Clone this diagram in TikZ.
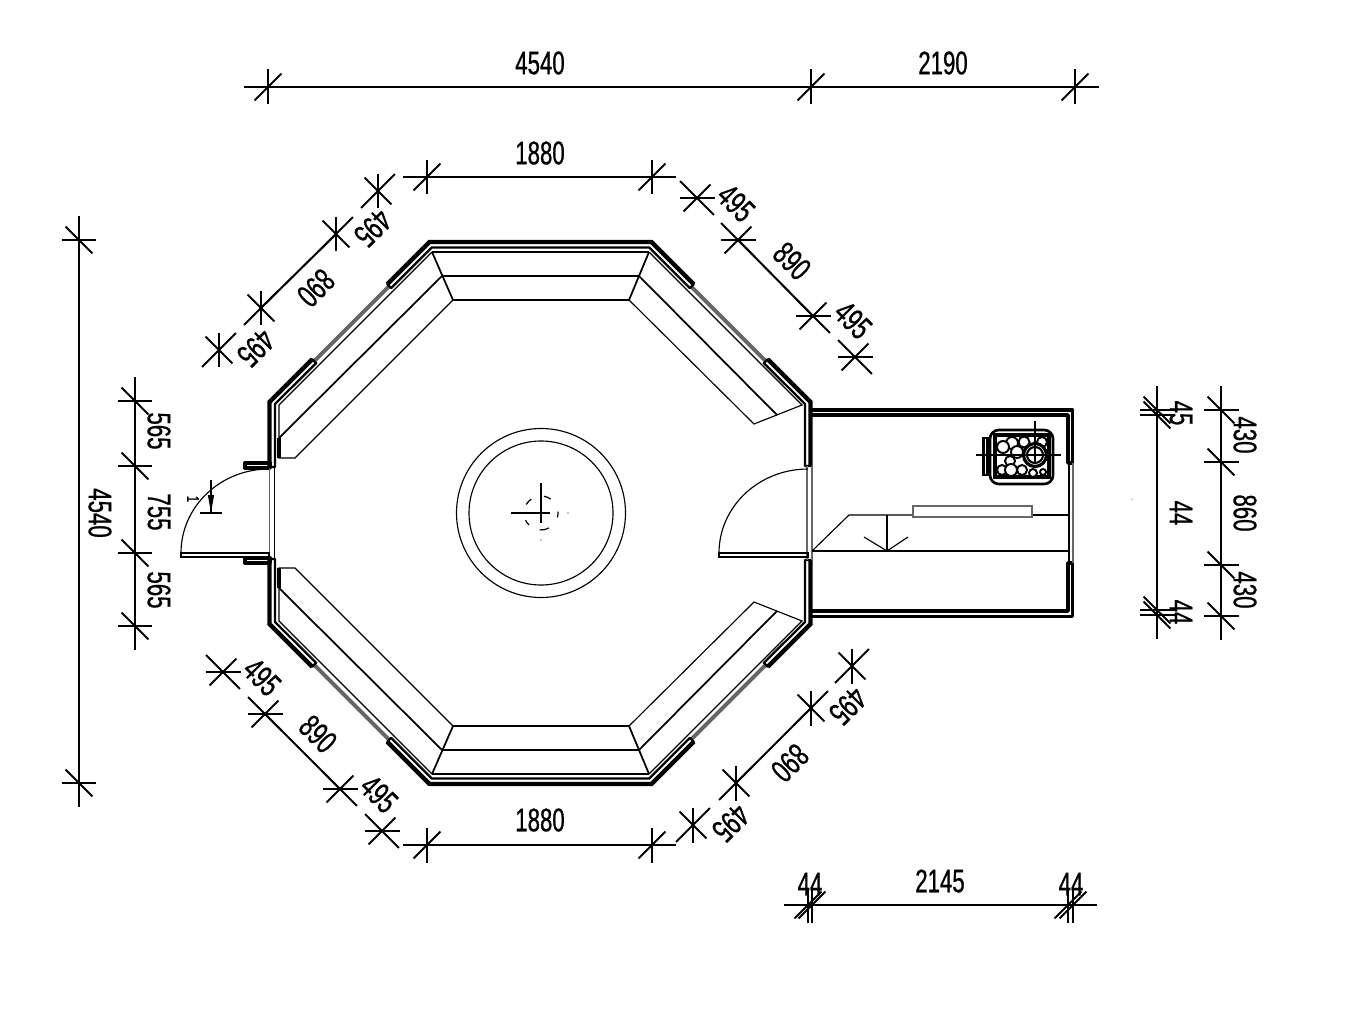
\documentclass[tikz,border=0pt]{standalone}
\usepackage{fontspec}
\newfontfamily\dimfont[FakeStretch=0.68,FakeBold=0.7]{Liberation Sans}
\usetikzlibrary{ arrows,
                 positioning, % For easy node-relative placements
               }
\tikzstyle{dimline} = [line width=1.15pt]
\tikzstyle{dimtext} = [inner sep=0pt, font=\dimfont\fontsize{18.6}{20}\selectfont]
\tikzstyle{wall} = [line width=1.3pt, line join=round]
\tikzstyle{wallout} = [line width=2.5pt, line join=miter]
\tikzstyle{glass} = [line width=1pt, black!60]
\tikzstyle{band} = [line width=2.2pt, black!60]
\tikzstyle{bench} = [line width=1pt]
\tikzstyle{thin line} = [line width=0.65pt]
\tikzstyle{stone} = [fill=white, draw=black, line width=1.1pt]

% position, angle of dim line, of extension line, of slash
\newcommand{\dimtick}[4]{
  \begin{scope}[shift={#1}]
    \draw[dimline] (#2:0.48cm) -- (#2+180:0.48cm);
    \draw[dimline] (#3:0.35cm) -- (#3+180:0.35cm);
    \draw[dimline] (#4:0.38cm) -- (#4+180:0.38cm);
  \end{scope}
}

\begin{document}
\begin{tikzpicture}[x=0.02cm, y=-0.02cm]
  \useasboundingbox (0,0) rectangle (1351,1013);

  % top dims
  \draw[dimline] (268,87) -- (1075,87);
  \dimtick{(268,87)}{0}{90}{45}
  \dimtick{(811,87)}{0}{90}{45}
  \dimtick{(1075,87)}{0}{90}{45}
  \node (top_a) [dimtext] at (540,63) {4540};
  \node (top_b) [dimtext] at (943,63) {2190};

  \draw[dimline] (427,177) -- (652,177);
  \dimtick{(427,177)}{0}{90}{45}
  \dimtick{(652,177)}{0}{90}{45}
  \node (north) [dimtext] at (540,153) {1880};

  \draw[dimline] (427,845) -- (652,845);
  \dimtick{(427,845)}{0}{90}{45}
  \dimtick{(652,845)}{0}{90}{45}
  \node (south) [dimtext] at (540,820) {1880};

  % diagonal dims
  \dimtick{(697,198)}{-45}{0}{45}
  \draw[dimline] (738,240) -- (813,316);
  \dimtick{(738,240)}{-45}{0}{45}
  \dimtick{(813,316)}{-45}{0}{45}
  \dimtick{(855,357)}{-45}{0}{45}
  \node (ne_a) [dimtext, rotate=-45] at (736,203) {495};
  \node (ne_b) [dimtext, rotate=-45] at (792,261) {890};
  \node (ne_c) [dimtext, rotate=-45] at (853,320) {495};

  \dimtick{(378,191)}{45}{90}{-45}
  \draw[dimline] (336,234) -- (261,308);
  \dimtick{(336,234)}{45}{90}{-45}
  \dimtick{(261,308)}{45}{90}{-45}
  \dimtick{(219,350)}{45}{90}{-45}
  \node (nw_a) [dimtext, rotate=225] at (373,228) {495};
  \node (nw_b) [dimtext, rotate=225] at (316,288) {890};
  \node (nw_c) [dimtext, rotate=225] at (256,348) {495};

  \dimtick{(223,672)}{-45}{0}{45}
  \draw[dimline] (265,714) -- (340,789);
  \dimtick{(265,714)}{-45}{0}{45}
  \dimtick{(340,789)}{-45}{0}{45}
  \dimtick{(382,831)}{-45}{0}{45}
  \node (sw_a) [dimtext, rotate=-45] at (262,677) {495};
  \node (sw_b) [dimtext, rotate=-45] at (318,734) {890};
  \node (sw_c) [dimtext, rotate=-45] at (379,794) {495};

  \dimtick{(852,666)}{45}{90}{-45}
  \draw[dimline] (811,708) -- (736,783);
  \dimtick{(811,708)}{45}{90}{-45}
  \dimtick{(736,783)}{45}{90}{-45}
  \dimtick{(693,825)}{45}{90}{-45}
  \node (se_a) [dimtext, rotate=225] at (848,706) {495};
  \node (se_b) [dimtext, rotate=225] at (790,763) {890};
  \node (se_c) [dimtext, rotate=225] at (731,823) {495};

  % left dims
  \draw[dimline] (79,240) -- (79,783);
  \dimtick{(79,240)}{90}{0}{135}
  \dimtick{(79,783)}{90}{0}{135}
  \node (far_left) [dimtext, rotate=-90] at (100,513) {4540};

  \draw[dimline] (135,401) -- (135,626);
  \dimtick{(135,401)}{90}{0}{135}
  \dimtick{(135,466)}{90}{0}{135}
  \dimtick{(135,553)}{90}{0}{135}
  \dimtick{(135,626)}{90}{0}{135}
  \node (left_a) [dimtext, rotate=-90] at (159,431) {565};
  \node (left_b) [dimtext, rotate=-90] at (159,512) {755};
  \node (left_c) [dimtext, rotate=-90] at (159,590) {565};

  % right dims
  \draw[dimline] (1157,410) -- (1157,615);
  \dimtick{(1157,410)}{90}{0}{135}
  \dimtick{(1157,415)}{90}{0}{135}
  \dimtick{(1157,610)}{90}{0}{135}
  \dimtick{(1157,615)}{90}{0}{135}
  \node (right_a) [dimtext, rotate=-90] at (1181,413) {45};
  \node (right_b) [dimtext, rotate=-90] at (1181,513) {44};
  \node (right_c) [dimtext, rotate=-90] at (1181,612) {44};

  \draw[dimline] (1221,410) -- (1221,616);
  \dimtick{(1221,410)}{90}{0}{135}
  \dimtick{(1221,462)}{90}{0}{135}
  \dimtick{(1221,565)}{90}{0}{135}
  \dimtick{(1221,616)}{90}{0}{135}
  \node (far_a) [dimtext, rotate=-90] at (1245,435) {430};
  \node (far_b) [dimtext, rotate=-90] at (1245,513) {860};
  \node (far_c) [dimtext, rotate=-90] at (1245,590) {430};

  % bottom dim
  \draw[dimline] (808,905) -- (1073,905);
  \dimtick{(808,905)}{0}{90}{45}
  \dimtick{(812,905)}{0}{90}{45}
  \dimtick{(1068,905)}{0}{90}{45}
  \dimtick{(1073,905)}{0}{90}{45}
  \node (low_a) [dimtext] at (810,884) {44};
  \node (low_b) [dimtext] at (940,881) {2145};
  \node (low_c) [dimtext] at (1071,884) {44};

  % window bands
  \draw[band] (389.2,286.2) -- (314.2,361.2);
  \draw[band] (690.8,286.2) -- (765.8,361.2);
  \draw[band] (389.2,739.8) -- (314.2,664.8);
  \draw[band] (690.8,739.8) -- (765.8,664.8);

  % walls
  \draw[wall] (387.25,284.25) -- (429.5,242) -- (651.5,242) -- (693.75,284.25) -- (689.85,288.15) -- (649.2,247.5) -- (431.8,247.5) -- (391.15,288.15) -- cycle;
  \draw[wallout] (387.25,284.25) -- (429.5,242) -- (651.5,242) -- (693.75,284.25);
  \draw[wall] (387.25,741.75) -- (429.5,784) -- (651.5,784) -- (693.75,741.75) -- (689.85,737.85) -- (649.2,778.5) -- (431.8,778.5) -- (391.15,737.85) -- cycle;
  \draw[wallout] (387.25,741.75) -- (429.5,784) -- (651.5,784) -- (693.75,741.75);
  \draw[wall] (312.25,359.25) -- (269.5,402) -- (269.5,467) -- (275,467) -- (275,404) -- (316.15,363.15) -- cycle;
  \draw[wallout] (312.25,359.25) -- (269.5,402) -- (269.5,467);
  \draw[wall] (312.25,666.75) -- (269.5,624) -- (269.5,559) -- (275,559) -- (275,622) -- (316.15,662.85) -- cycle;
  \draw[wallout] (312.25,666.75) -- (269.5,624) -- (269.5,559);
  \draw[wall] (767.75,359.25) -- (810.5,402) -- (810.5,466) -- (805,466) -- (805,404) -- (763.85,363.15) -- cycle;
  \draw[wallout] (767.75,359.25) -- (810.5,402) -- (810.5,466);
  \draw[wall] (767.75,666.75) -- (810.5,624) -- (810.5,560) -- (805,560) -- (805,622) -- (763.85,662.85) -- cycle;
  \draw[wallout] (767.75,666.75) -- (810.5,624) -- (810.5,560);

  % benches
  \draw[bench] (432,252) -- (649,252);
  \draw[bench] (442,276) -- (639,276);
  \draw[bench] (453,300) -- (629,300);
  \draw[bench] (432,252) -- (453,300);
  \draw[bench] (649,252) -- (629,300);
  \draw[bench] (432,774) -- (649,774);
  \draw[bench] (442,750) -- (639,750);
  \draw[bench] (453,726) -- (629,726);
  \draw[bench] (432,774) -- (453,726);
  \draw[bench] (649,774) -- (629,726);

  \draw[thin line] (432,252) -- (279,405) -- (279,458) -- (295,458) -- (453,300);
  \draw[bench] (442,276) -- (279,438);
  \draw[wallout, line width=1.9pt] (279,438) -- (279,458);
  \draw[thin line] (432,774) -- (279,621) -- (279,568) -- (295,568) -- (453,726);
  \draw[bench] (442,750) -- (279,588);
  \draw[wallout, line width=1.9pt] (279,568) -- (279,588);
  \draw[thin line] (649,252) -- (802,405) -- (754,424) -- (629,300);
  \draw[bench] (639,276) -- (777,415);
  \draw[thin line] (649,774) -- (802,621) -- (754,602) -- (629,726);
  \draw[bench] (639,750) -- (777,611);

  % entrance door
  \draw[wall, line width=1.9pt] (245,463) rectangle (270,468);
  \draw[wall, line width=1.9pt] (245,558) rectangle (270,563);
  \draw[glass] (269.5,468) -- (269.5,558);
  \draw[thin line] (274.5,468) -- (274.5,558);
  \draw[thin line] (181,553) rectangle (269,557);
  \draw[thin line] (181,553) arc[start angle=180, end angle=90, x radius=1.76cm, y radius=1.68cm];
  \draw[thin line] (211,480) -- (211,512);
  \fill (207.8,495) -- (214.2,495) -- (211,512) -- cycle;
  \draw[line width=1.6pt] (200,513) -- (222,513);
  \node (cut_mark) [inner sep=0pt, rotate=-90, font=\dimfont\fontsize{9.6}{10}\selectfont] at (193,499) {1};

  % inner door
  \draw[glass] (806.7,466) -- (806.7,560);
  \draw[glass] (811.7,466) -- (811.7,560);
  \draw[thin line] (719,553) rectangle (808,557);
  \draw[thin line] (719,553) arc[start angle=180, end angle=90, x radius=1.78cm, y radius=1.68cm];

  % sauna room
  \draw[wall, line width=2pt] (812,410) -- (1072.5,410) -- (1072.5,463) -- (1068,463) -- (1068,415) -- (812,415);
  \draw[wall, line width=2pt] (812,616.5) -- (1072.5,616.5) -- (1072.5,563) -- (1068,563) -- (1068,611) -- (812,611);
  \draw[thin line] (1069,463) -- (1069,563);
  \draw[glass] (1073,463) -- (1073,563);

  % low bench and heater rail
  \draw[bench] (812,551) -- (1068,551);
  \draw[thin line] (812,551) -- (849,515) -- (913,515);
  \draw[thin line] (1032,515) -- (1068,515);
  \draw[glass, fill=white] (913,506) rectangle (1032,517);
  \draw[thin line] (887,515) -- (887,551);
  \draw[thin line] (864,537) -- (887,551) -- (908,537);

  % stove
  \draw[line width=1.5pt, rounded corners=5pt] (990,430) rectangle (1053,484);
  \draw[line width=2pt] (995,435) rectangle (1049,477);
  \draw[line width=1.2pt] (983.5,438) rectangle (987.5,475);
  \begin{scope}
    \clip (995,435) rectangle (1049,477);
    \draw[stone] (1012,443) circle (6);
    \draw[stone] (1024,442) circle (5.5);
    \draw[stone] (1042,442) circle (5);
    \draw[stone] (1003,447) circle (6);
    \draw[stone] (1017,452) circle (6);
    \draw[stone] (1010,461) circle (5);
    \draw[stone] (1002,470) circle (5);
    \draw[stone] (1022,470) circle (5);
    \draw[stone] (1033,473) circle (4);
    \draw[stone] (1043,472) circle (3);
    \draw[stone] (1011,470) circle (6);
  \end{scope}
  \draw[fill=white, line width=1.8pt] (1035,455) circle (11.5);
  \draw[line width=1.2pt] (1035,455) circle (8);
  \draw[thin line] (976,455) -- (1061,455);
  \draw[thin line] (1035,421) -- (1035,462);

  % stove in the middle of the room
  \draw[thin line] (541,513) circle (84.5);
  \draw[thin line] (541,513) circle (72);
  \draw[thin line] (511,513) -- (550,513);
  \draw[thin line] (541,483) -- (541,523);
  \begin{scope}[shift={(541,513)}]
    \draw[line width=0.7pt] (125:0.34cm) arc (125:150:0.34cm);
    \draw[line width=0.7pt] (55:0.34cm) arc (55:80:0.34cm);
    \draw[line width=0.7pt] (-15:0.34cm) arc (-15:5:0.34cm);
    \draw[line width=0.7pt] (-95:0.34cm) arc (-95:-62:0.34cm);
    \draw[line width=0.7pt] (205:0.34cm) arc (205:225:0.34cm);
  \end{scope}
  \fill (541,540) circle (0.6);
  \fill (568,513) circle (0.6);
  \fill (1132,499) circle (0.5);
\end{tikzpicture}
\end{document}
